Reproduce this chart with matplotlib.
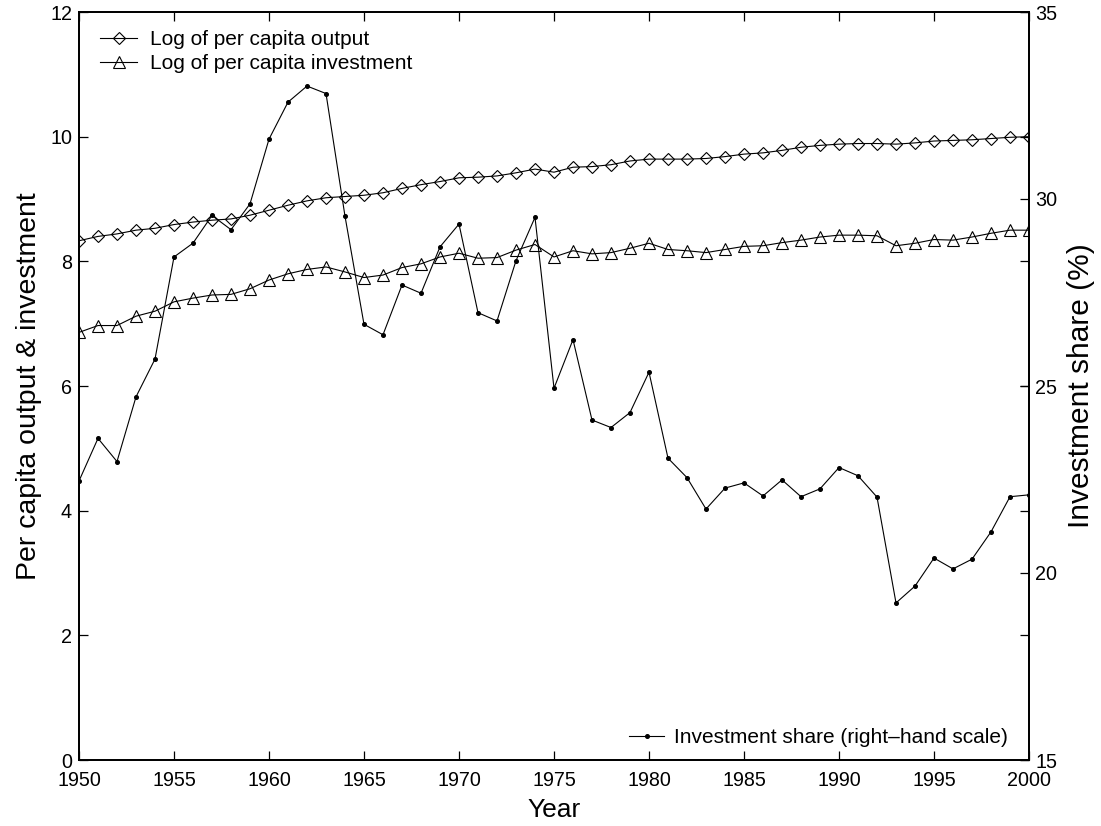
import numpy as np
import matplotlib
matplotlib.use("Agg")
import matplotlib.pyplot as plt

plt.rcParams['font.family'] = ['Liberation Sans', 'DejaVu Sans']

years = np.arange(1950, 2001)

# Log of per capita output (left scale)
log_output = [8.33, 8.40, 8.44, 8.50, 8.53, 8.59, 8.63, 8.66, 8.68, 8.74,
              8.82, 8.90, 8.97, 9.02, 9.04, 9.06, 9.10, 9.17, 9.23, 9.28,
              9.34, 9.35, 9.37, 9.42, 9.48, 9.43, 9.51, 9.52, 9.55, 9.61,
              9.64, 9.64, 9.64, 9.65, 9.68, 9.72, 9.74, 9.78, 9.83, 9.86,
              9.88, 9.89, 9.89, 9.88, 9.90, 9.93, 9.94, 9.95, 9.97, 9.99,
              10.00]

# Log of per capita investment (left scale)
log_invest = [6.86, 6.97, 6.97, 7.12, 7.20, 7.35, 7.41, 7.46, 7.47, 7.56,
              7.70, 7.80, 7.87, 7.91, 7.83, 7.74, 7.78, 7.90, 7.96, 8.07,
              8.13, 8.05, 8.06, 8.18, 8.27, 8.07, 8.17, 8.12, 8.14, 8.21,
              8.29, 8.19, 8.17, 8.14, 8.19, 8.24, 8.25, 8.30, 8.34, 8.39,
              8.42, 8.42, 8.41, 8.25, 8.29, 8.35, 8.34, 8.39, 8.45, 8.50,
              8.50]

# Investment share in % (right scale)
inv_share = [22.46, 23.60, 22.98, 24.71, 25.72, 28.45, 28.82, 29.56, 29.18, 29.87,
             31.60, 32.59, 33.02, 32.82, 29.54, 26.65, 26.37, 27.70, 27.48, 28.72,
             29.33, 26.96, 26.74, 28.35, 29.51, 24.94, 26.24, 24.09, 23.89, 24.29,
             25.37, 23.07, 22.55, 21.71, 22.27, 22.41, 22.06, 22.49, 22.04, 22.25,
             22.82, 22.60, 22.03, 19.20, 19.65, 20.40, 20.11, 20.37, 21.10, 22.04,
             22.09]

fig = plt.figure(figsize=(11.01, 8.26), dpi=100)
ax1 = fig.add_axes([79 / 1101, 1 - 760 / 826, 950 / 1101, 748 / 826])
ax2 = ax1.twinx()

l1, = ax1.plot(years, log_output, color="black", lw=0.8, marker="D", ms=6.4,
               mfc="none", mec="black", mew=0.8, label="Log of per capita output")
l2, = ax1.plot(years, log_invest, color="black", lw=0.8, marker="^", ms=9,
               mfc="none", mec="black", mew=0.8, label="Log of per capita investment")
l3, = ax2.plot(years, inv_share, color="black", lw=0.8, marker="o", ms=2.6,
               mfc="black", mec="black", label="Investment share (right\u2013hand scale)")

ax1.set_xlim(1950, 2000)
ax1.set_ylim(0, 12)
ax1.set_xticks(np.arange(1950, 2001, 5))
ax1.set_yticks(np.arange(0, 13, 2))
ax2.set_ylim(15, 35)
ax2.set_yticks(np.arange(15, 36, 5))

ax1.tick_params(axis="both", direction="in", length=6.5, width=0.9, labelsize=14.2,
                top=True, right=True, pad=5)
ax1.tick_params(axis="x", pad=8)
ax2.tick_params(axis="y", direction="in", length=6.5, width=0.9, labelsize=14.2, pad=4.5)

for ax in (ax1, ax2):
    for s in ax.spines.values():
        s.set_linewidth(1.3)

ax1.set_xlabel("Year", fontsize=19, labelpad=6)
ax1.set_ylabel("Per capita output & investment", fontsize=20.5, labelpad=6)
ax2.set_ylabel("Investment share (%)", fontsize=21.5, labelpad=7)

ax1.legend(handles=[l1, l2], loc="upper left", bbox_to_anchor=(0.022, 0.976),
           frameon=False, fontsize=15, handlelength=1.8, handletextpad=0.6,
           labelspacing=0.25, borderaxespad=0, borderpad=0)
ax2.legend(handles=[l3], loc="lower right", bbox_to_anchor=(0.978, 0.017),
           frameon=False, fontsize=15, handlelength=1.65, handletextpad=0.5,
           borderaxespad=0, borderpad=0)

fig.savefig("out.png", dpi=100)
